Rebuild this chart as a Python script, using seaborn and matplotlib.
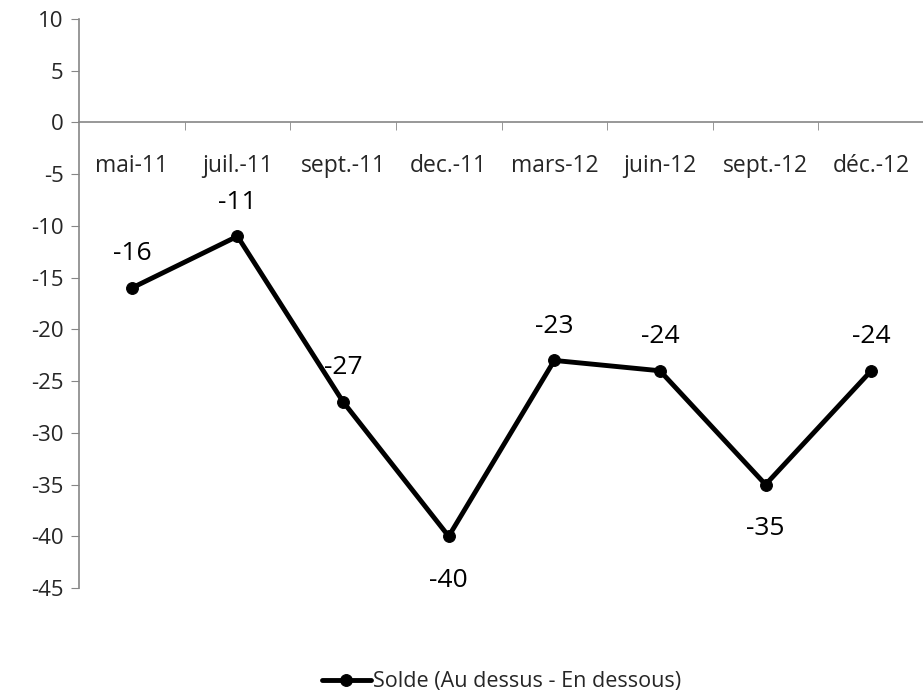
import matplotlib
matplotlib.use('Agg')
import matplotlib.pyplot as plt
import seaborn as sns
import pandas as pd

# Chart data
months = ['mai-11', 'juil.-11', 'sept.-11', 'dec.-11', 'mars-12', 'juin-12', 'sept.-12', 'déc.-12']
solde = [-16, -11, -27, -40, -23, -24, -35, -24]
label_below = [False, False, False, True, False, False, True, False]
series_name = 'Solde (Au dessus - En dessous)'

sns.set_style('white')
plt.rcParams['font.family'] = ['Open Sans', 'DejaVu Sans']
plt.rcParams['axes.unicode_minus'] = False

df = pd.DataFrame({'idx': range(len(months)), 'value': solde, 'serie': series_name})

fig = plt.figure(figsize=(9.23, 6.94), dpi=100)
ax = fig.add_axes([0.0856, 0.1527, 0.9155, 0.8199])

sns.lineplot(data=df, x='idx', y='value', hue='serie', palette=['black'],
             marker='o', markersize=8.5, linewidth=3.5, markeredgecolor='black', ax=ax)

# Data labels
for i, (v, below) in enumerate(zip(solde, label_below)):
    off = -31.5 if below else 24.5
    ax.annotate(str(v), (i, v), xytext=(0, off), textcoords='offset points',
                ha='center', va='center', fontsize=19, color='black')

ax.set_xlim(-0.5, len(months) - 0.5)
ax.set_ylim(-45, 10)
ax.set_yticks(range(-45, 11, 5))
ax.set_xticks(range(len(months)))
ax.set_xticklabels(months)
ax.set_xticks([i + 0.5 for i in range(len(months) - 1)], minor=True)

grey = '#868686'
ax.spines['top'].set_visible(False)
ax.spines['right'].set_visible(False)
ax.spines['left'].set_color(grey)
ax.spines['bottom'].set_color(grey)
ax.spines['bottom'].set_position(('data', 0))
ax.spines['left'].set_linewidth(1.2)
ax.spines['bottom'].set_linewidth(1.2)

ax.tick_params(axis='y', which='major', direction='out', length=6, color=grey,
               labelsize=16, pad=5, left=True)
ax.tick_params(axis='x', which='major', length=0, labelsize=16.5, pad=23)
ax.tick_params(axis='x', which='minor', direction='out', length=6, color=grey, bottom=True)

ax.set_xlabel('')
ax.set_ylabel('')

handles, labels = ax.get_legend_handles_labels()
ax.legend(handles, labels, loc='center', bbox_to_anchor=(0.5, -0.165), frameon=False,
          fontsize=15.5, handlelength=2.3, handletextpad=0.1)

fig.savefig('out.png', dpi=100)
